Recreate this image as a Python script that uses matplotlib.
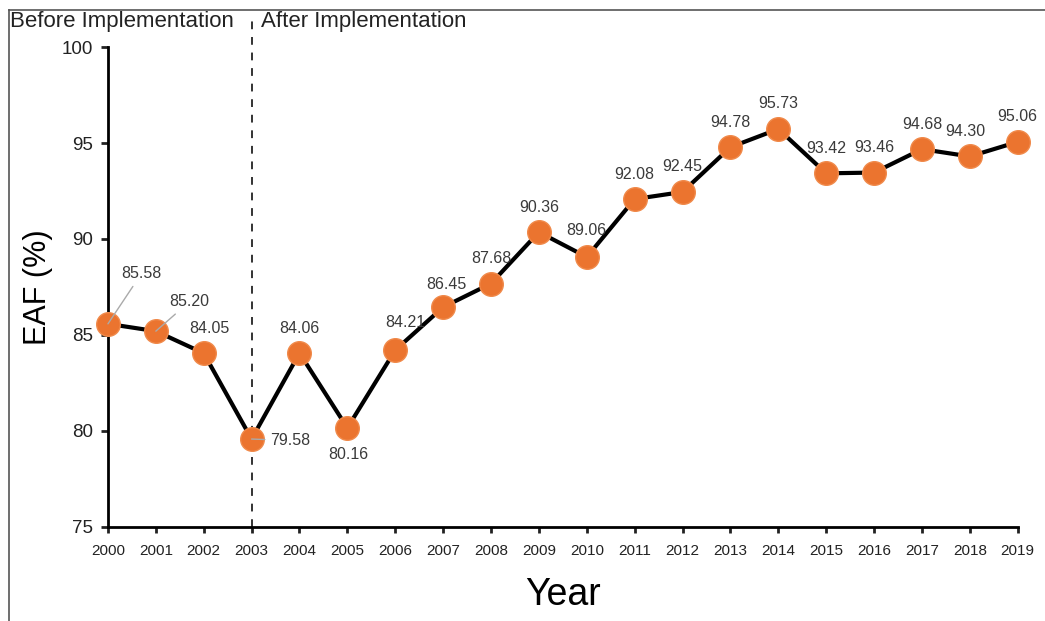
import matplotlib.pyplot as plt
from matplotlib.lines import Line2D

plt.rcParams['font.family'] = ['Liberation Sans', 'DejaVu Sans']

years = list(range(2000, 2020))
eaf = [85.58, 85.20, 84.05, 79.58, 84.06, 80.16, 84.21, 86.45, 87.68, 90.36,
       89.06, 92.08, 92.45, 94.78, 95.73, 93.42, 93.46, 94.68, 94.30, 95.06]
year_labels = [str(y) for y in years]
y_ticks = [75, 80, 85, 90, 95, 100]
split_year = 2003

# label offsets in points, default is straight above the marker
offsets = {2000: (24, 36), 2001: (24, 21), 2002: (4, 18), 2003: (28, -1),
           2005: (1, -19), 2006: (7, 20), 2007: (2, 16), 2010: (0, 19),
           2018: (-3, 18)}
leaders = [2000, 2001, 2003]

fig = plt.figure(figsize=(10.45, 6.21), dpi=100)
ax = fig.add_axes([0.1033, 0.1514, 0.8706, 0.7729])

ax.plot([split_year, split_year], [75, 101.7], color='#333333', lw=1.4,
        ls=(0, (4, 4)), clip_on=False, zorder=1)

ax.plot(years, eaf, color='black', lw=3, marker='o', markersize=17,
        markerfacecolor='#EB742F', markeredgecolor='#F08A4B', markeredgewidth=1,
        clip_on=False, zorder=3)

for x, v in zip(years, eaf):
    dx, dy = offsets.get(x, (0, 18))
    arrow = None
    if x in leaders:
        arrow = dict(arrowstyle='-', color='#AAAAAA', lw=1, shrinkA=2, shrinkB=0)
    ax.annotate(f'{v:.2f}', (x, v), xytext=(dx, dy), textcoords='offset points',
                ha='center', va='center', fontsize=11.5, color='#3a3a3a',
                arrowprops=arrow, zorder=4, annotation_clip=False)

ax.set_xlim(2000, 2019)
ax.set_ylim(75, 100)
ax.set_xticks(years)
ax.set_xticklabels(year_labels)
ax.set_yticks(y_ticks)
ax.spines['top'].set_visible(False)
ax.spines['right'].set_visible(False)
ax.spines['left'].set_linewidth(2)
ax.spines['bottom'].set_linewidth(2)
ax.tick_params(axis='y', labelsize=13.5, length=5, width=2, pad=6, colors='#222222')
ax.tick_params(axis='x', labelsize=11, length=4, width=2, pad=8, colors='#222222')
ax.set_ylabel('EAF (%)', fontsize=22, labelpad=6)
ax.set_xlabel('Year', fontsize=27, labelpad=14)

fig.text(0.010, 0.966, 'Before Implementation', fontsize=16, color='#222222', va='center')
fig.text(0.250, 0.966, 'After Implementation', fontsize=16, color='#222222', va='center')

# outer frame (left and top)
fig.add_artist(Line2D([0.009, 0.009], [0.0, 0.984], color='#555555', lw=1.2))
fig.add_artist(Line2D([0.009, 1.0], [0.984, 0.984], color='#555555', lw=1.2))

fig.savefig('out.png', dpi=100)
